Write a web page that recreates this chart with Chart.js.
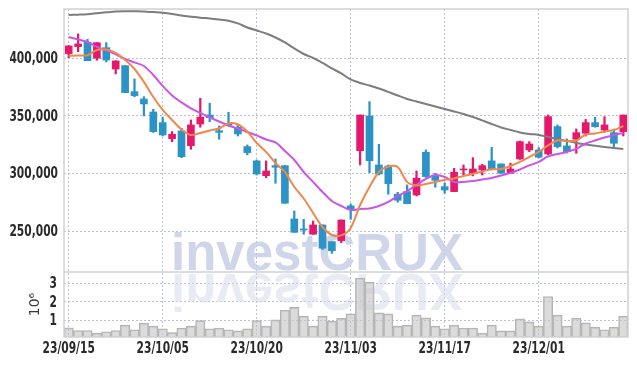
<!DOCTYPE html>
<html><head><meta charset="utf-8">
<script src="https://cdn.jsdelivr.net/npm/chart.js@4/dist/chart.umd.min.js"></script>
<style>html,body{margin:0;padding:0;background:#fff;overflow:hidden;}</style>
</head><body>
<canvas id="c" width="637" height="366"></canvas>
<script>
const dates = ['23/09/15','23/09/18','23/09/19','23/09/20','23/09/21','23/09/22','23/09/25','23/09/26','23/09/27','23/10/04',
'23/10/05','23/10/06','23/10/10','23/10/11','23/10/12','23/10/13','23/10/16','23/10/17','23/10/18','23/10/19',
'23/10/20','23/10/23','23/10/24','23/10/25','23/10/26','23/10/27','23/10/30','23/10/31','23/11/01','23/11/02',
'23/11/03','23/11/06','23/11/07','23/11/08','23/11/09','23/11/10','23/11/13','23/11/14','23/11/15','23/11/16',
'23/11/17','23/11/20','23/11/21','23/11/22','23/11/23','23/11/24','23/11/27','23/11/28','23/11/29','23/11/30',
'23/12/01','23/12/04','23/12/05','23/12/06','23/12/07','23/12/08','23/12/11','23/12/12','23/12/13','23/12/14'];

const opens = [404000,410100,413900,400000,409200,390700,393600,371000,364700,353400,
344200,330300,337000,324200,343000,350800,337200,343300,340200,323400,
311000,298200,306900,306900,260700,252000,247400,255500,241000,241900,
272000,319900,350000,307500,306600,282100,284400,281500,318500,298000,
288700,284400,303200,300300,303200,311000,308400,300300,312700,320500,
320500,317000,340700,324000,329800,335000,344200,337800,335500,336400];

const highs = [411000,421100,416500,413600,413500,397800,393600,382100,366700,355800,
348900,336400,339300,346500,365300,361000,341300,353200,343000,324800,
311800,311000,312700,306900,267600,260400,258900,255500,241000,259800,
273700,350800,362400,325400,307500,283800,290200,302300,320500,300300,
291900,304600,307500,313800,308100,322800,308400,309000,328300,327700,
322500,350800,342200,330000,338700,347000,348900,349400,338500,350800];

const lows = [400500,405700,397900,398300,396800,386400,370100,366700,350000,335700,
332600,327700,313800,321100,340200,345000,329800,341300,332600,316200,
298800,296500,291600,274300,249100,247400,247400,234200,230900,240100,
260400,307500,300800,298800,282100,275200,273900,280600,296700,288200,
283000,284400,298800,298000,298800,303200,300300,300300,312300,319000,
313600,316200,322200,317900,317600,332600,340200,335800,323400,332600];

const closes = [410700,412400,397900,413500,398500,397700,370200,367600,360400,336400,
333500,334100,314700,342200,348900,348500,335800,341900,334400,318200,
299700,302300,305500,274300,249100,251100,255500,235300,233200,259800,
269100,350800,311200,299700,291300,276900,273900,296000,297400,294200,
285800,301200,304000,304000,306900,303800,300300,304000,327700,325700,
314200,349400,323400,319000,335500,344200,340700,342200,326300,350800];

const ma5 = [402000,402400,402600,407200,407600,404600,398500,390700,379500,366400,
355200,346500,338300,333500,335200,337400,339100,343500,342600,336500,
326600,318800,309200,301400,288400,278400,265900,253700,246800,246400,
252900,272800,288400,301400,306200,305800,292800,289700,291000,292800,
294500,295800,298000,299700,301900,303800,304000,306600,310100,314400,
318800,324400,328700,328300,328700,333900,334800,336500,337800,341300];

const ma20 = [418500,416300,414100,409800,406800,403300,399400,396400,393300,385500,
376000,367700,361700,356500,352600,348700,345200,341700,339100,336100,
333100,329600,327000,319600,311800,301400,292800,284100,276300,271900,
268500,269300,269800,271900,275400,280600,284900,290200,295400,298800,
297100,292800,292800,293600,294900,296200,298400,300600,303600,307100,
310100,314900,317000,318800,321400,326100,328700,331300,333500,335200];

const ma60 = [437500,437800,438200,439000,439800,440500,440700,440700,440600,440000,
439400,438400,437000,436000,435100,434500,433600,432500,430200,426700,
424100,421500,418000,413700,408500,403700,400300,395900,391200,386800,
381600,378600,376400,373800,370800,367700,364700,362500,360400,358200,
356000,353900,351700,349100,346100,343000,340000,337800,335700,334400,
333500,331800,330000,328300,326600,325300,324100,323100,322200,321400];

const volumes = [0.61,0.47,0.47,0.33,0.40,0.47,0.76,0.51,0.86,0.70,
0.56,0.35,0.60,0.70,1.00,0.56,0.60,0.51,0.45,0.56,
1.00,0.70,1.04,1.55,1.71,1.23,0.70,1.23,0.97,1.12,
1.36,3.27,3.05,1.41,1.36,0.70,0.76,1.29,1.14,0.70,
0.56,0.76,0.60,0.60,0.33,0.76,0.45,0.45,1.09,0.93,
0.70,2.29,1.29,0.70,1.13,0.88,0.65,0.51,0.65,1.23];

const priceTicks = [250000, 300000, 350000, 400000];
const volumeTicks = [1, 2, 3];

const UP = '#e4196b', DOWN = '#2c93c6';
const candleColors = closes.map((c, i) => c >= opens[i] ? UP : DOWN);
const bodies = opens.map((o, i) => [o, closes[i]]);
const wicks = lows.map((l, i) => [l, highs[i]]);

const LABEL_FONT = 'bold 15px "DejaVu Sans Condensed", "DejaVu Sans", sans-serif';
const LABEL_SCALE = 0.79;
const LABEL_COLOR = '#2a2a2a';
const GRID = 'rgba(165,172,205,0.75)';

const watermark = {
  id: 'watermark',
  beforeDatasetsDraw(chart) {
    const ctx = chart.ctx;
    const base = chart.scales.y.bottom;
    ctx.save();
    ctx.font = 'bold 51px "Liberation Sans", Arial, sans-serif';
    ctx.textAlign = 'center';
    ctx.textBaseline = 'alphabetic';
    ctx.fillStyle = 'rgba(196,204,228,0.8)';
    ctx.fillText('investCRUX', 317, base - 2);
    ctx.translate(0, 2 * base);
    ctx.scale(1, -1);
    ctx.fillStyle = 'rgba(214,219,234,0.55)';
    ctx.fillText('investCRUX', 317, base - 2);
    ctx.restore();
  }
};

function narrowText(ctx, text, x, y, align, baseline) {
  ctx.save();
  ctx.translate(x, y);
  ctx.scale(LABEL_SCALE, 1);
  ctx.textAlign = align;
  ctx.textBaseline = baseline;
  ctx.fillText(text, 0, 0);
  ctx.restore();
}

const frameAndLabels = {
  id: 'frameAndLabels',
  afterDraw(chart) {
    const {ctx, chartArea: a, scales} = chart;
    ctx.save();
    ctx.strokeStyle = '#cfd0d6';
    ctx.lineWidth = 1.5;
    ctx.strokeRect(a.left, a.top, a.right - a.left, a.bottom - a.top);
    ctx.beginPath();
    ctx.moveTo(a.left, scales.y.bottom);
    ctx.lineTo(a.right, scales.y.bottom);
    ctx.stroke();

    ctx.font = LABEL_FONT;
    ctx.fillStyle = LABEL_COLOR;
    priceTicks.forEach(v => narrowText(ctx, v.toLocaleString('en-US'), a.left - 6, scales.y.getPixelForValue(v) + 1, 'right', 'middle'));
    volumeTicks.forEach(v => narrowText(ctx, String(v), a.left - 7, scales.y2.getPixelForValue(v) + 1, 'right', 'middle'));
    dates.forEach((d, i) => {
      if (i % 10 === 0) narrowText(ctx, d, scales.x.getPixelForValue(i), a.bottom + 5, 'center', 'top');
    });
    ctx.restore();
  }
};

new Chart(document.getElementById('c'), {
  type: 'bar',
  data: {
    labels: dates,
    datasets: [
      {type: 'line', data: ma5, yAxisID: 'y', borderColor: '#f0874d', borderWidth: 2, pointRadius: 0, tension: 0.3, order: 1},
      {type: 'line', data: ma20, yAxisID: 'y', borderColor: '#c956e6', borderWidth: 2, pointRadius: 0, tension: 0.3, order: 2},
      {type: 'line', data: ma60, yAxisID: 'y', borderColor: '#7d7d7d', borderWidth: 2, pointRadius: 0, tension: 0.3, order: 3},
      {type: 'bar', data: bodies, yAxisID: 'y', backgroundColor: candleColors, barThickness: 7, grouped: false, order: 4},
      {type: 'bar', data: wicks, yAxisID: 'y', backgroundColor: candleColors, barThickness: 1.6, grouped: false, order: 5},
      {type: 'bar', data: volumes, yAxisID: 'y2', backgroundColor: 'rgba(195,195,197,0.6)', borderColor: '#b3b3b3', borderWidth: 1,
       barPercentage: 1, categoryPercentage: 1, grouped: false, order: 6}
    ]
  },
  options: {
    responsive: false,
    animation: false,
    devicePixelRatio: 1,
    layout: {padding: {left: 0, right: 9, top: 9, bottom: 0}},
    plugins: {legend: {display: false}, tooltip: {enabled: false}},
    scales: {
      x: {
        type: 'category',
        offset: true,
        grid: {offset: false, drawTicks: false, color: c => (c.index % 10 === 0 ? GRID : 'rgba(0,0,0,0)'), lineWidth: 1},
        border: {display: false, dash: [2, 2]},
        ticks: {display: false, autoSkip: false},
        afterFit: s => { s.height = 29; s.paddingLeft = 0; s.paddingRight = 0; }
      },
      y2: {
        type: 'linear', position: 'left', stack: 'panels', stackWeight: 65,
        min: 0.12, max: 3.6,
        grid: {drawTicks: false, color: GRID},
        border: {display: false, dash: [2, 2]},
        afterBuildTicks: s => { s.ticks = volumeTicks.map(v => ({value: v})); },
        ticks: {display: false, autoSkip: false},
        title: {display: true, text: '10⁶', color: '#3a3a3a', font: {family: '"DejaVu Sans", sans-serif', size: 14}, padding: {top: 27, bottom: 0}},
        afterFit: s => { s.width = 64; s.paddingTop = 0; s.paddingBottom = 0; }
      },
      y: {
        type: 'linear', position: 'left', stack: 'panels', stackWeight: 263,
        min: 214700, max: 442700,
        grid: {drawTicks: false, color: GRID},
        border: {display: false, dash: [2, 2]},
        afterBuildTicks: s => { s.ticks = priceTicks.map(v => ({value: v})); },
        ticks: {display: false, autoSkip: false},
        afterFit: s => { s.width = 64; s.paddingTop = 0; s.paddingBottom = 0; }
      }
    }
  },
  plugins: [watermark, frameAndLabels]
});
</script>
</body></html>
